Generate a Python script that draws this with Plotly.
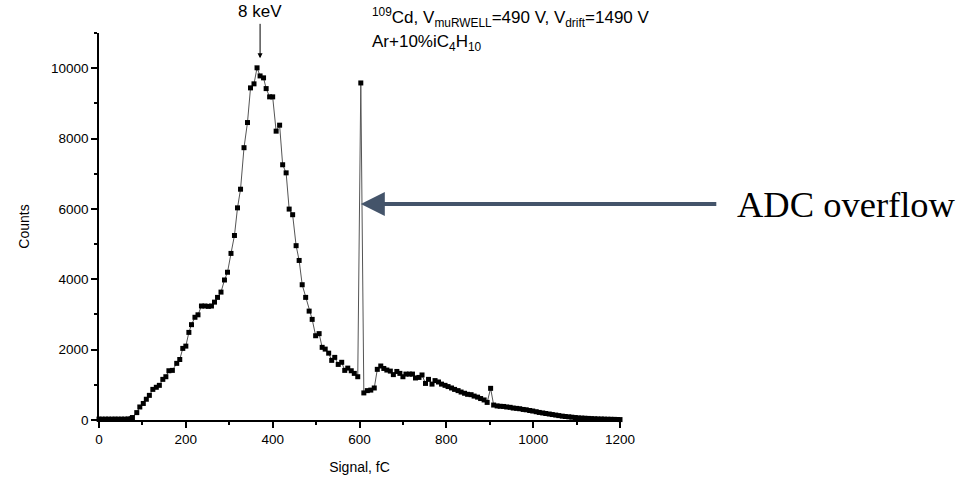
import plotly.graph_objects as go

signal_fc = [0, 7, 15, 22, 30, 37, 44, 52, 59, 67, 74, 77, 87, 94, 102, 109, 116, 124, 132, 139,
             147, 154, 161, 169, 179, 186, 193, 200, 207, 213, 221, 228, 236, 244, 252, 259, 266, 273,
             281, 289, 296, 304, 312, 319, 326, 334, 342, 349, 357, 364, 371, 379, 385, 393, 400, 408,
             416, 423, 431, 438, 446, 454, 461, 468, 476, 484, 491, 499, 507, 514, 521, 529, 536, 543,
             551, 559, 566, 573, 581, 588, 596, 603, 610, 618, 626, 634, 641, 649, 656, 663, 671, 678,
             686, 693, 700, 707, 715, 722, 729, 737, 744, 752, 759, 767, 774, 782, 789, 797, 804, 812,
             819, 827, 834, 842, 849, 857, 864, 872, 879, 887, 894, 902, 909, 917, 924, 932, 939, 947,
             954, 962, 969, 977, 984, 992, 999, 1007, 1014, 1022, 1029, 1037, 1044, 1052, 1059, 1067,
             1074, 1082, 1089, 1097, 1104, 1112, 1119, 1127, 1134, 1142, 1149, 1157, 1164, 1172, 1179,
             1187, 1194, 1200]
counts = [25, 25, 25, 25, 25, 25, 25, 25, 25, 30, 35, 70, 210, 370, 470, 590, 700, 870, 930, 985,
          1155, 1230, 1400, 1410, 1610, 1720, 2035, 2100, 2490, 2710, 2920, 2990, 3240, 3240, 3230, 3240, 3350, 3485,
          3635, 3980, 4200, 4735, 5245, 6030, 6560, 7740, 8455, 9440, 9555, 10010, 9780, 9725, 9420, 9185, 9185, 8210,
          8380, 7255, 7025, 5995, 5835, 4955, 4535, 3845, 3485, 3095, 2860, 2395, 2455, 2065, 2015, 1900, 1695, 1780,
          1580, 1640, 1410, 1475, 1400, 1325, 1230, 9580, 770, 835, 850, 910, 1440, 1535, 1465, 1420, 1390, 1290,
          1380, 1325, 1230, 1305, 1305, 1305, 1195, 1210, 1280, 1040, 1155, 1020, 1120, 1080, 1020, 985, 950, 910,
          870, 835, 795, 760, 730, 720, 680, 650, 610, 570, 500, 900, 425, 400, 390, 385, 370, 360,
          340, 330, 320, 300, 290, 270, 255, 235, 215, 200, 185, 170, 155, 140, 125, 110,
          100, 90, 80, 70, 60, 55, 50, 45, 40, 35, 30, 28, 25, 22, 20,
          18, 15, 12]

x_ticks = [0, 200, 400, 600, 800, 1000, 1200]
x_labels = ["0", "200", "400", "600", "800", "1000", "1200"]
y_ticks = [0, 2000, 4000, 6000, 8000, 10000]
y_labels = ["0", "2000", "4000", "6000", "8000", "10000"]

FONT = "Arial, Liberation Sans, sans-serif"

fig = go.Figure()
fig.add_trace(go.Scatter(
    x=signal_fc, y=counts, mode="lines+markers",
    line=dict(color="#555555", width=1),
    marker=dict(symbol="square", size=5, color="black"),
    cliponaxis=False, showlegend=False,
))

axis_common = dict(
    showline=True, linecolor="black", linewidth=1.5, mirror=False,
    ticks="outside", ticklen=6, tickwidth=1.5, tickcolor="black",
    showgrid=False, zeroline=False, automargin=False,
    tickfont=dict(family=FONT, size=13.5, color="black"),
)

fig.update_layout(
    width=963, height=480,
    margin=dict(l=99, r=343, t=33, b=60),
    paper_bgcolor="white", plot_bgcolor="white",
    font=dict(family=FONT, color="black"),
    xaxis=dict(range=[0, 1200], tickvals=x_ticks, ticktext=x_labels,
               minor=dict(dtick=100, tick0=0, ticks="outside", ticklen=3, tickwidth=1.5, tickcolor="black"),
               title=dict(text="Signal, fC", font=dict(family=FONT, size=14), standoff=16),
               **axis_common),
    yaxis=dict(range=[0, 11000], tickvals=y_ticks, ticktext=y_labels,
               minor=dict(dtick=1000, tick0=0, ticks="outside", ticklen=3, tickwidth=1.5, tickcolor="black"),
               title=dict(text="Counts", font=dict(family=FONT, size=14), standoff=18),
               **axis_common),
)

# 8 keV label and arrow
fig.add_annotation(x=371, y=10280, xref="x", yref="y", ax=0, ay=-36, axref="pixel", ayref="pixel",
                   text="", showarrow=True, arrowhead=2, arrowsize=1, arrowwidth=1, arrowcolor="black")
fig.add_annotation(x=(260 - 99) / 521, y=(420 - 12) / 387, xref="paper", yref="paper",
                   text="8 keV", showarrow=False, font=dict(family=FONT, size=17, color="black"),
                   xanchor="center", yanchor="middle")

# info text
fig.add_annotation(x=(370 - 99) / 521, y=(420 - 18) / 387, xref="paper", yref="paper",
                   text="<sup>109</sup>Cd, V<sub>muRWELL</sub>=490 V, V<sub>drift</sub>=1490 V",
                   showarrow=False, font=dict(family=FONT, size=17, color="black"),
                   xanchor="left", yanchor="middle")
fig.add_annotation(x=(370 - 99) / 521, y=(420 - 43) / 387, xref="paper", yref="paper",
                   text="Ar+10%iC<sub>4</sub>H<sub>10</sub>",
                   showarrow=False, font=dict(family=FONT, size=17, color="black"),
                   xanchor="left", yanchor="middle")

# ADC overflow arrow
fig.add_annotation(x=603, y=6140, xref="x", yref="y", ax=357, ay=0, axref="pixel", ayref="pixel",
                   text="", showarrow=True, arrowhead=2, arrowsize=1.2, arrowwidth=4, arrowcolor="#44546A")
fig.add_annotation(x=(735 - 99) / 521, y=(420 - 204) / 387, xref="paper", yref="paper",
                   text="ADC overflow", showarrow=False,
                   font=dict(family="Times New Roman, Liberation Serif, serif", size=36.5, color="black"),
                   xanchor="left", yanchor="middle")

# remove the default 8px body margin so the figure sits at the page origin
fig.write_html("out.html", config={"displayModeBar": False},
               post_script="document.body.style.margin='0px';")
